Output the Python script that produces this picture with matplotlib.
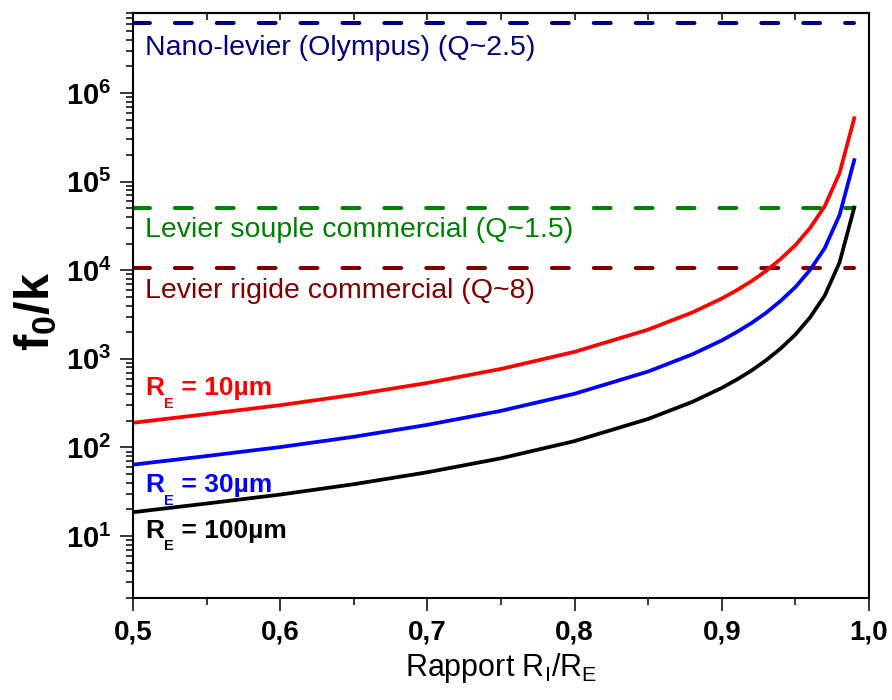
import matplotlib

matplotlib.use("Agg")

import matplotlib.pyplot as plt  # noqa: E402
from matplotlib.ticker import LogLocator, MultipleLocator, NullFormatter  # noqa: E402
from matplotlib.transforms import offset_copy  # noqa: E402

plt.rcParams["font.family"] = ["Liberation Sans", "DejaVu Sans"]
plt.rcParams["mathtext.default"] = "regular"

# f0/k versus the inner/outer radius ratio
ratio = [0.50, 0.55, 0.60, 0.65, 0.70, 0.75, 0.80, 0.85, 0.88, 0.90,
         0.91, 0.92, 0.93, 0.94, 0.95, 0.96, 0.97, 0.98, 0.99]
f0k_10um = [190, 238, 300, 393, 535, 770, 1200, 2140, 3340, 4800,
            5930, 7500, 9810, 13400, 19200, 30000, 53000, 125000, 520000]
f0k_30um = [64, 80, 101, 132, 180, 259, 404, 720, 1125, 1615,
            2000, 2525, 3300, 4510, 6460, 10100, 17850, 42000, 175000]
f0k_100um = [18.6, 23.3, 29.4, 38.5, 52.5, 75.5, 118, 210, 327, 470,
             581, 735, 962, 1310, 1880, 2940, 5200, 12250, 51000]
curve_values = ["10µm", "30µm", "100µm"]
curve_colors = ["#ff0000", "#0000ff", "#000000"]

# commercial / reference cantilevers (horizontal dashed levels)
ref_levels = [6.1e6, 5.0e4, 1.07e4]
ref_labels = ["Nano-levier (Olympus) (Q~2.5)",
              "Levier souple commercial (Q~1.5)",
              "Levier rigide commercial (Q~8)"]
ref_colors = ["#000080", "#008000", "#800000"]

x_ticks = [0.5, 0.6, 0.7, 0.8, 0.9, 1.0]
x_tick_labels = ["0,5", "0,6", "0,7", "0,8", "0,9", "1,0"]
y_ticks = [1e1, 1e2, 1e3, 1e4, 1e5, 1e6]
y_tick_labels = [r"10$^{%d}$" % e for e in range(1, 7)]

fig = plt.figure(figsize=(8.92, 7.0), dpi=100)
ax = fig.add_axes([0.1491, 0.1457, 0.8251, 0.8357])
renderer = fig.canvas.get_renderer()


def piece_text(x, y, pieces, size, **kw):
    """Write text pieces one after another; ("E", True) is a lowered subscript.
    mathtext subscripts sit too high compared to the original, hence this."""
    dx = 0.0
    for s, sub in pieces:
        fs = size * 0.55 if sub else size
        dy = -size * 1.389 * 0.48 if sub else 0.0
        tr = offset_copy(ax.transAxes, fig=fig, x=dx, y=dy, units="dots")
        t = ax.text(x, y, s, fontsize=fs, transform=tr, va="baseline", **kw)
        dx += t.get_window_extent(renderer).width


for level, color in zip(ref_levels, ref_colors):
    ax.plot([ratio[0], ratio[-1]], [level, level], color=color, lw=2.9,
            dashes=(4.2, 6.2), dash_capstyle="round")

for y, color in zip([f0k_10um, f0k_30um, f0k_100um], curve_colors):
    ax.plot(ratio, y, color=color, lw=2.7)

# text positions in axes fraction (baseline)
for label, color, ypos in zip(ref_labels, ref_colors, [0.928, 0.617, 0.513]):
    ax.text(0.016, ypos, label, color=color, fontsize=20.5,
            transform=ax.transAxes, va="baseline")
for value, color, ypos in zip(curve_values, curve_colors, [0.347, 0.181, 0.103]):
    piece_text(0.016, ypos, [("R", False), ("E", True), (" = " + value, False)],
               19, color=color, fontweight="bold")

ax.set_xlim(0.5, 1.0)
ax.set_yscale("log")
ax.set_ylim(2, 8e6)

ax.set_xticks(x_ticks, x_tick_labels, fontsize=20, fontweight="bold")
ax.xaxis.set_minor_locator(MultipleLocator(0.05))
ax.set_yticks(y_ticks, y_tick_labels, fontsize=21, fontweight="bold")
ax.yaxis.set_minor_locator(LogLocator(base=10, subs=range(2, 10), numticks=20))
ax.yaxis.set_minor_formatter(NullFormatter())

ax.tick_params(which="major", direction="out", length=9.4, width=1.1, pad=6)
ax.tick_params(which="minor", direction="out", length=5, width=1.1)
for side in ax.spines.values():
    side.set_linewidth(1.5)

# mirrored ticks on the top edge point inwards, no labels
top = ax.secondary_xaxis("top")
top.set_xticks([0.5 + 0.05 * i for i in range(11)])
top.tick_params(direction="in", length=5, width=1.1, labeltop=False)
top.spines["top"].set_linewidth(1.5)

ax.set_xlabel(r"Rapport R$_\mathregular{I}$/R$_\mathregular{E}$", fontsize=22)
ax.set_ylabel(r"f$_\mathregular{0}$/k", fontsize=35, fontweight="bold")
ax.yaxis.set_label_coords(-0.1, 0.49)

fig.savefig("out.png", dpi=100)
